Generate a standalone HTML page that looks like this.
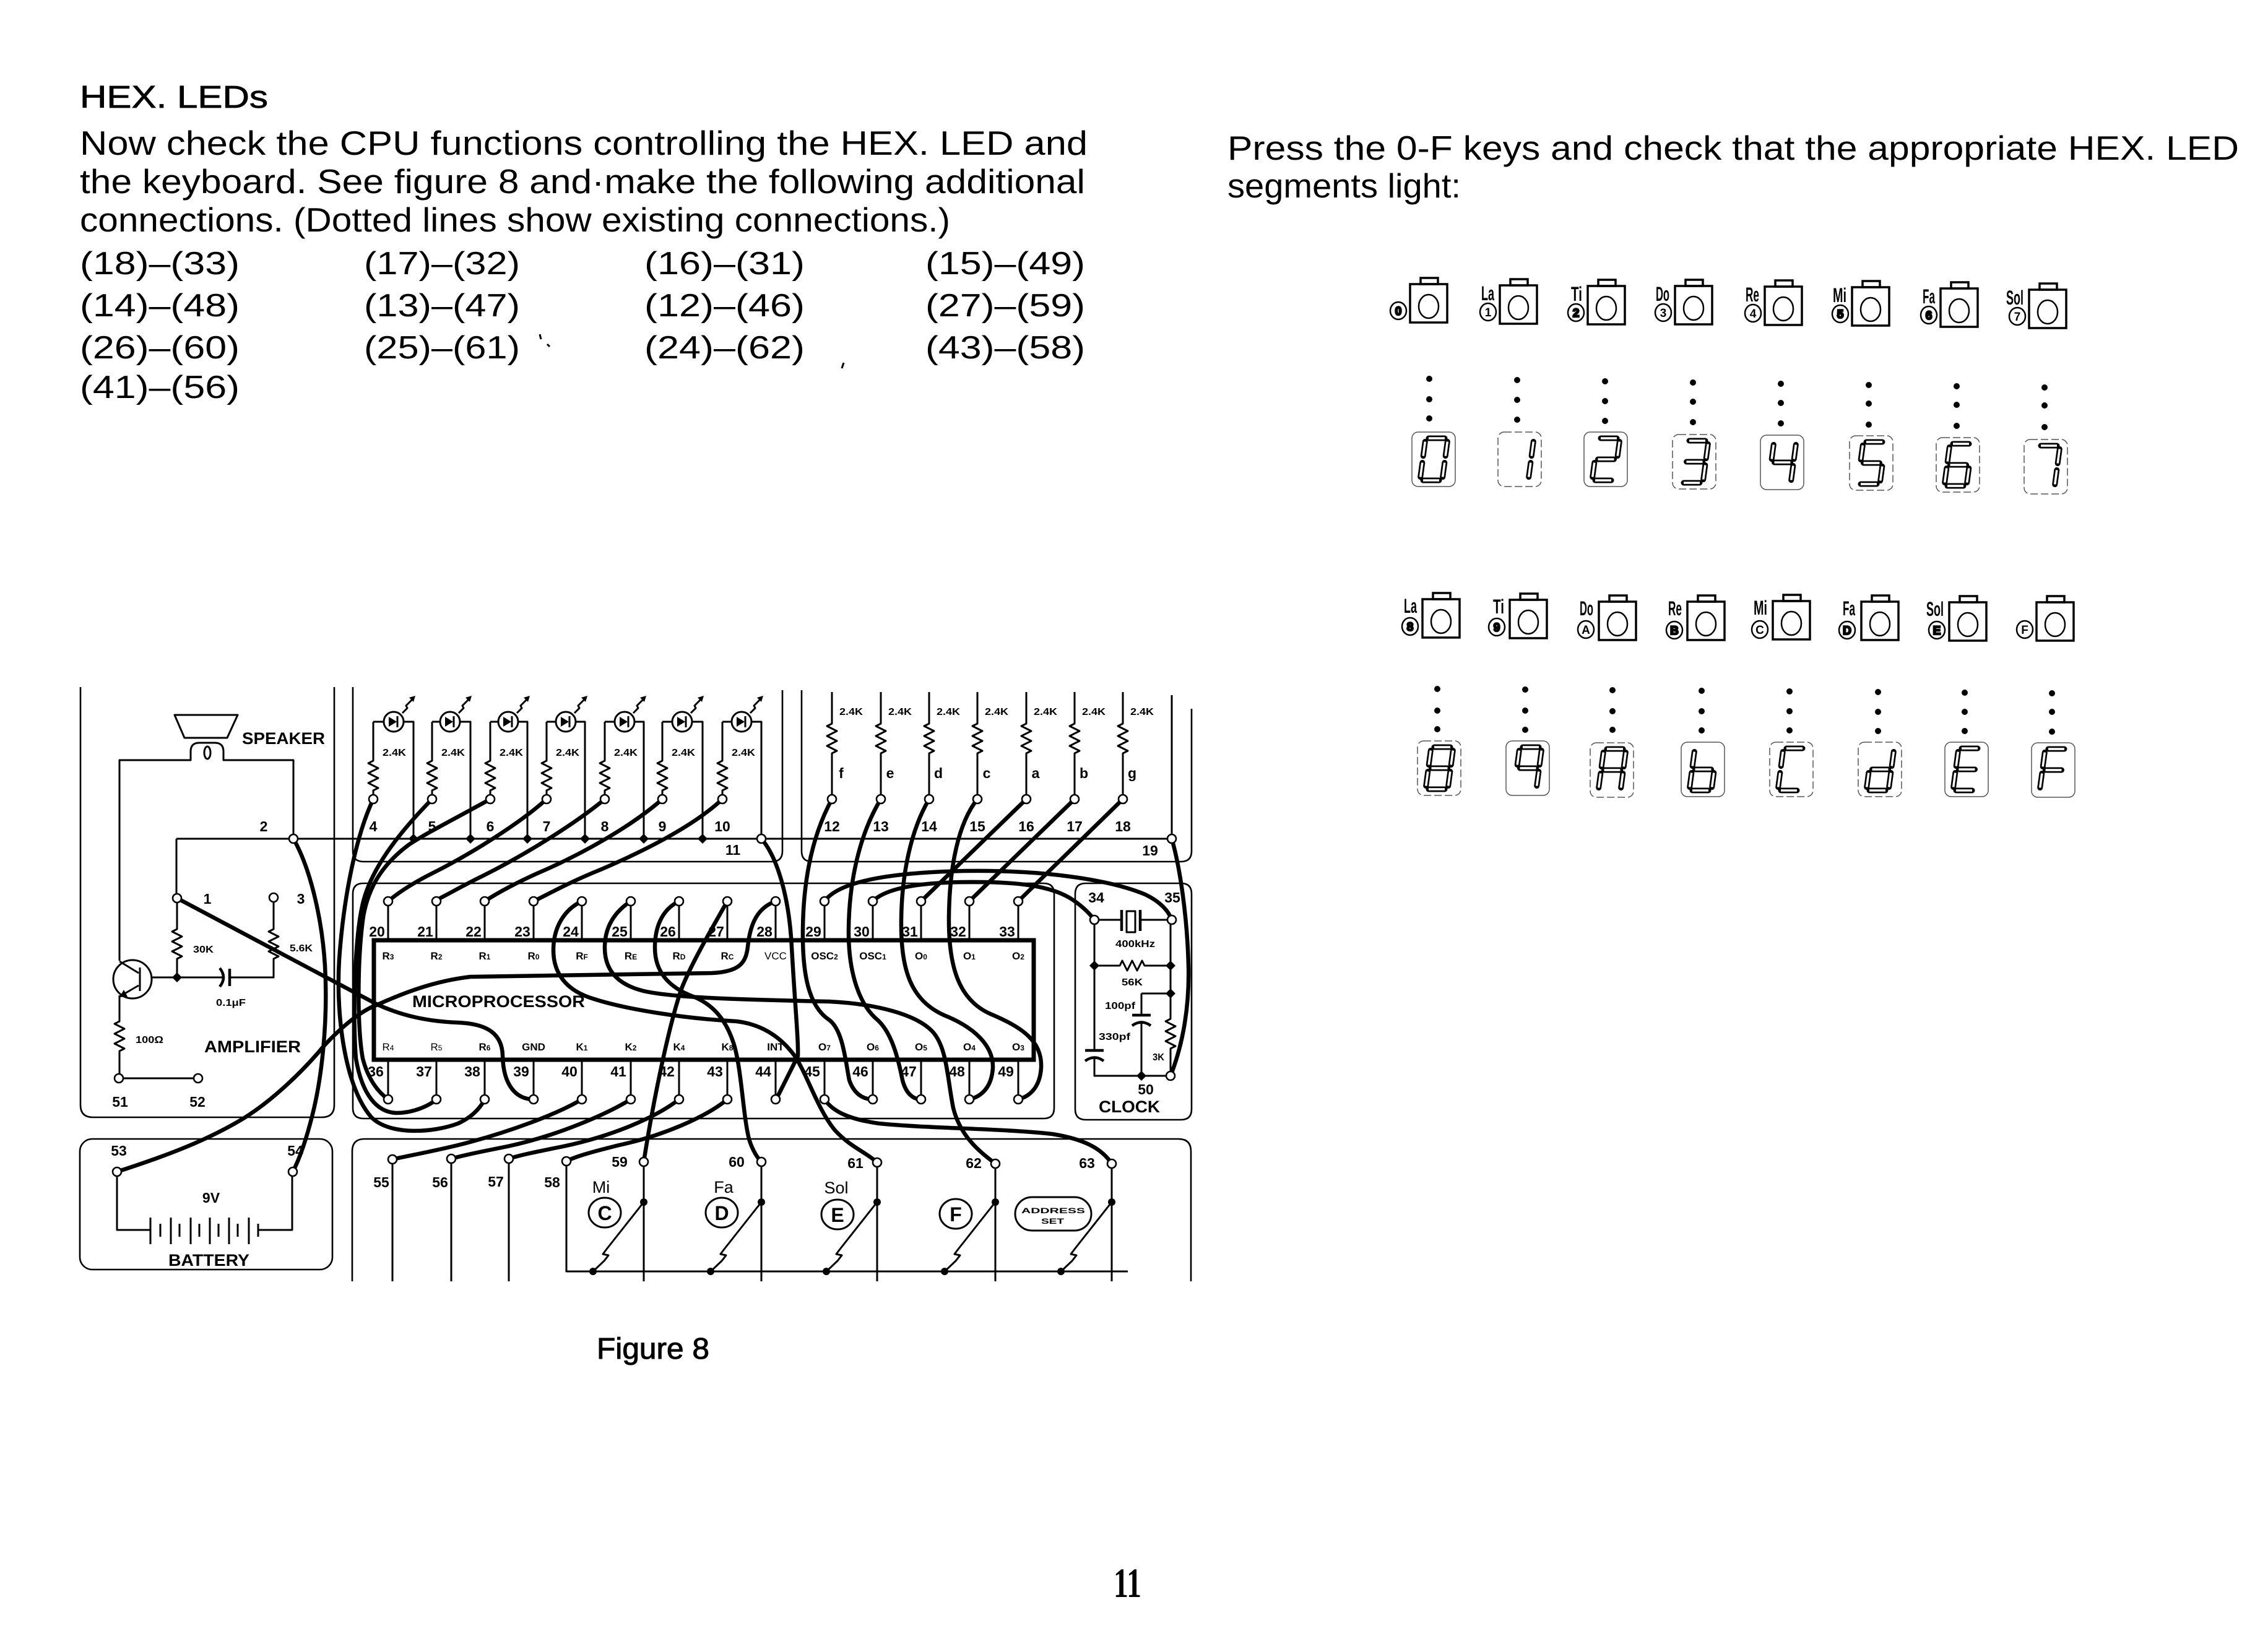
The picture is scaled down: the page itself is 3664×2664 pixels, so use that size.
<!DOCTYPE html>
<html><head><meta charset="utf-8">
<style>
html,body{margin:0;padding:0;background:#fff;}
svg{display:block;}
text{font-family:"Liberation Sans",Arial,sans-serif;fill:#000;}
.bt{font-size:55px;}
.pr{font-size:52px;}
.p{fill:none;stroke:#000;stroke-width:2.6;}
.w{fill:none;stroke:#000;stroke-width:3;stroke-linejoin:round;}
.w4{fill:none;stroke:#000;stroke-width:4.5;}
.tk{fill:none;stroke:#000;stroke-width:6.5;stroke-linecap:round;stroke-linejoin:round;}
.nd{fill:#fff;stroke:#000;stroke-width:2.6;}
.dm{fill:#000;}
.led{fill:#fff;stroke:#000;stroke-width:3;}
.lb{font-weight:bold;font-size:23px;text-anchor:middle;}
.ls{font-weight:bold;font-size:16px;}
.li{font-weight:bold;font-size:17px;text-anchor:middle;}
.big{font-weight:bold;font-size:27px;}
.k{fill:none;stroke:#000;stroke-width:3.5;}
.k2{fill:none;stroke:#000;stroke-width:2.5;}
.kn{font-weight:bold;font-size:19px;text-anchor:middle;}
.kf{stroke:#000;stroke-width:2.5;}
.kl{font-weight:bold;font-size:32px;}
.db{fill:none;stroke:#555;stroke-width:1.5;}
.s1{fill:none;stroke:#000;stroke-width:9;stroke-linecap:round;}
.s2{fill:none;stroke:#fff;stroke-width:3.5;}
.kc{fill:none;stroke:#000;stroke-width:3;}
.kt{font-weight:bold;font-size:32px;text-anchor:middle;}
.km{font-size:27px;text-anchor:middle;}
</style></head><body>
<svg width="3664" height="2664" viewBox="0 0 3664 2664">
<rect x="0" y="0" width="3664" height="2664" fill="#fff"/>

<!-- ============ LEFT TEXT ============ -->
<text x="129" y="174" font-size="51" textLength="304" lengthAdjust="spacingAndGlyphs" stroke="#000" stroke-width="0.8">HEX. LEDs</text>
<text class="bt" x="129" y="250" textLength="1628" lengthAdjust="spacingAndGlyphs">Now check the CPU functions controlling the HEX. LED and</text>
<text class="bt" x="129" y="312" textLength="1624" lengthAdjust="spacingAndGlyphs">the keyboard. See figure 8 and·make the following additional</text>
<text class="bt" x="129" y="374" textLength="1406" lengthAdjust="spacingAndGlyphs">connections. (Dotted lines show existing connections.)</text>

<text class="pr" x="129" y="443" textLength="258" lengthAdjust="spacingAndGlyphs">(18)–(33)</text>
<text class="pr" x="588" y="443" textLength="252" lengthAdjust="spacingAndGlyphs">(17)–(32)</text>
<text class="pr" x="1041" y="443" textLength="259" lengthAdjust="spacingAndGlyphs">(16)–(31)</text>
<text class="pr" x="1495" y="443" textLength="258" lengthAdjust="spacingAndGlyphs">(15)–(49)</text>
<text class="pr" x="129" y="511" textLength="258" lengthAdjust="spacingAndGlyphs">(14)–(48)</text>
<text class="pr" x="588" y="511" textLength="252" lengthAdjust="spacingAndGlyphs">(13)–(47)</text>
<text class="pr" x="1041" y="511" textLength="259" lengthAdjust="spacingAndGlyphs">(12)–(46)</text>
<text class="pr" x="1495" y="511" textLength="258" lengthAdjust="spacingAndGlyphs">(27)–(59)</text>
<text class="pr" x="129" y="579" textLength="258" lengthAdjust="spacingAndGlyphs">(26)–(60)</text>
<text class="pr" x="588" y="579" textLength="252" lengthAdjust="spacingAndGlyphs">(25)–(61)</text>
<text class="pr" x="1041" y="579" textLength="259" lengthAdjust="spacingAndGlyphs">(24)–(62)</text>
<text class="pr" x="1495" y="579" textLength="258" lengthAdjust="spacingAndGlyphs">(43)–(58)</text>
<text class="pr" x="129" y="643" textLength="258" lengthAdjust="spacingAndGlyphs">(41)–(56)</text>
<path d="M872,540 l2,8 M884,556 l4,4" class="w"/>
<path d="M1363,586 l-3,9" class="w"/>

<!-- ============ RIGHT TEXT ============ -->
<text class="bt" x="1983" y="258" textLength="1634" lengthAdjust="spacingAndGlyphs">Press the 0-F keys and check that the appropriate HEX. LED</text>
<text class="bt" x="1983" y="319" textLength="377" lengthAdjust="spacingAndGlyphs">segments light:</text>

<!-- ============ KEYS ROW 1 ============ -->
<g transform="translate(2278,459)"><rect class="k" width="60" height="62"/><rect class="k" x="17" y="-10" width="28" height="10"/><ellipse class="k2" cx="30" cy="36" rx="16" ry="19"/><ellipse class="k2" cx="-19" cy="43" rx="13" ry="14"/><text class="kn kf" x="-19" y="50">0</text></g>
<g transform="translate(2423,461)"><rect class="k" width="60" height="62"/><rect class="k" x="17" y="-10" width="28" height="10"/><ellipse class="k2" cx="30" cy="36" rx="16" ry="19"/><ellipse class="k2" cx="-19" cy="43" rx="13" ry="14"/><text class="kn" x="-19" y="50">1</text><text class="kl" x="-30" y="24" textLength="21" lengthAdjust="spacingAndGlyphs">La</text></g>
<g transform="translate(2565,462)"><rect class="k" width="60" height="62"/><rect class="k" x="17" y="-10" width="28" height="10"/><ellipse class="k2" cx="30" cy="36" rx="16" ry="19"/><ellipse class="k2" cx="-19" cy="43" rx="13" ry="14"/><text class="kn kf" x="-19" y="50">2</text><text class="kl" x="-27" y="24" textLength="18" lengthAdjust="spacingAndGlyphs">Ti</text></g>
<g transform="translate(2706,462)"><rect class="k" width="60" height="62"/><rect class="k" x="17" y="-10" width="28" height="10"/><ellipse class="k2" cx="30" cy="36" rx="16" ry="19"/><ellipse class="k2" cx="-19" cy="43" rx="13" ry="14"/><text class="kn" x="-19" y="50">3</text><text class="kl" x="-31" y="24" textLength="22" lengthAdjust="spacingAndGlyphs">Do</text></g>
<g transform="translate(2851,463)"><rect class="k" width="60" height="62"/><rect class="k" x="17" y="-10" width="28" height="10"/><ellipse class="k2" cx="30" cy="36" rx="16" ry="19"/><ellipse class="k2" cx="-19" cy="43" rx="13" ry="14"/><text class="kn" x="-19" y="50">4</text><text class="kl" x="-31" y="24" textLength="22" lengthAdjust="spacingAndGlyphs">Re</text></g>
<g transform="translate(2992,464)"><rect class="k" width="60" height="62"/><rect class="k" x="17" y="-10" width="28" height="10"/><ellipse class="k2" cx="30" cy="36" rx="16" ry="19"/><ellipse class="k2" cx="-19" cy="43" rx="13" ry="14"/><text class="kn kf" x="-19" y="50">5</text><text class="kl" x="-31" y="24" textLength="22" lengthAdjust="spacingAndGlyphs">Mi</text></g>
<g transform="translate(3135,466)"><rect class="k" width="60" height="62"/><rect class="k" x="17" y="-10" width="28" height="10"/><ellipse class="k2" cx="30" cy="36" rx="16" ry="19"/><ellipse class="k2" cx="-19" cy="43" rx="13" ry="14"/><text class="kn kf" x="-19" y="50">6</text><text class="kl" x="-29" y="24" textLength="20" lengthAdjust="spacingAndGlyphs">Fa</text></g>
<g transform="translate(3278,468)"><rect class="k" width="60" height="62"/><rect class="k" x="17" y="-10" width="28" height="10"/><ellipse class="k2" cx="30" cy="36" rx="16" ry="19"/><ellipse class="k2" cx="-19" cy="43" rx="13" ry="14"/><text class="kn" x="-19" y="50">7</text><text class="kl" x="-37" y="24" textLength="28" lengthAdjust="spacingAndGlyphs">Sol</text></g>

<!-- dots row 1 -->
<g fill="#000">
<circle cx="2309" cy="612" r="5"/><circle cx="2309" cy="645" r="5"/><circle cx="2309" cy="676" r="5"/>
<circle cx="2451" cy="614" r="5"/><circle cx="2451" cy="646" r="5"/><circle cx="2451" cy="678" r="5"/>
<circle cx="2593" cy="616" r="5"/><circle cx="2593" cy="648" r="5"/><circle cx="2593" cy="680" r="5"/>
<circle cx="2735" cy="618" r="5"/><circle cx="2735" cy="649" r="5"/><circle cx="2735" cy="682" r="5"/>
<circle cx="2877" cy="620" r="5"/><circle cx="2877" cy="651" r="5"/><circle cx="2877" cy="684" r="5"/>
<circle cx="3019" cy="622" r="5"/><circle cx="3019" cy="652" r="5"/><circle cx="3019" cy="686" r="5"/>
<circle cx="3161" cy="624" r="5"/><circle cx="3161" cy="654" r="5"/><circle cx="3161" cy="688" r="5"/>
<circle cx="3303" cy="626" r="5"/><circle cx="3303" cy="655" r="5"/><circle cx="3303" cy="690" r="5"/>
</g>

<!-- displays row 1 -->
<g transform="translate(2281,698)"><rect class="db" width="70" height="88" rx="10"/><path class="s1" d="M27,10L53,10M57.3,15.5L54.2,38.5M52.8,49.5L49.7,72.5M18,78L44,78M16.8,49.5L13.7,72.5M21.3,15.5L18.2,38.5"/><path class="s2" d="M27,10L53,10M57.3,15.5L54.2,38.5M52.8,49.5L49.7,72.5M18,78L44,78M16.8,49.5L13.7,72.5M21.3,15.5L18.2,38.5"/></g>
<g transform="translate(2420,698)"><rect class="db" width="70" height="88" rx="10" stroke-dasharray="12 5"/><path class="s1" d="M57.3,15.5L54.2,38.5M52.8,49.5L49.7,72.5"/><path class="s2" d="M57.3,15.5L54.2,38.5M52.8,49.5L49.7,72.5"/></g>
<g transform="translate(2559,698)"><rect class="db" width="70" height="88" rx="10"/><path class="s1" d="M27,10L53,10M57.3,15.5L54.2,38.5M22.5,44L48.5,44M16.8,49.5L13.7,72.5M18,78L44,78"/><path class="s2" d="M27,10L53,10M57.3,15.5L54.2,38.5M22.5,44L48.5,44M16.8,49.5L13.7,72.5M18,78L44,78"/></g>
<g transform="translate(2702,702)"><rect class="db" width="70" height="88" rx="10" stroke-dasharray="12 5"/><path class="s1" d="M27,10L53,10M57.3,15.5L54.2,38.5M22.5,44L48.5,44M52.8,49.5L49.7,72.5M18,78L44,78"/><path class="s2" d="M27,10L53,10M57.3,15.5L54.2,38.5M22.5,44L48.5,44M52.8,49.5L49.7,72.5M18,78L44,78"/></g>
<g transform="translate(2844,703)"><rect class="db" width="70" height="88" rx="10"/><path class="s1" d="M21.3,15.5L18.2,38.5M22.5,44L48.5,44M57.3,15.5L54.2,38.5M52.8,49.5L49.7,72.5"/><path class="s2" d="M21.3,15.5L18.2,38.5M22.5,44L48.5,44M57.3,15.5L54.2,38.5M52.8,49.5L49.7,72.5"/></g>
<g transform="translate(2988,704)"><rect class="db" width="70" height="88" rx="10" stroke-dasharray="12 5"/><path class="s1" d="M27,10L53,10M21.3,15.5L18.2,38.5M22.5,44L48.5,44M52.8,49.5L49.7,72.5M18,78L44,78"/><path class="s2" d="M27,10L53,10M21.3,15.5L18.2,38.5M22.5,44L48.5,44M52.8,49.5L49.7,72.5M18,78L44,78"/></g>
<g transform="translate(3128,707)"><rect class="db" width="70" height="88" rx="10" stroke-dasharray="12 5"/><path class="s1" d="M27,10L53,10M21.3,15.5L18.2,38.5M22.5,44L48.5,44M16.8,49.5L13.7,72.5M52.8,49.5L49.7,72.5M18,78L44,78"/><path class="s2" d="M27,10L53,10M21.3,15.5L18.2,38.5M22.5,44L48.5,44M16.8,49.5L13.7,72.5M52.8,49.5L49.7,72.5M18,78L44,78"/></g>
<g transform="translate(3270,710)"><rect class="db" width="70" height="88" rx="10" stroke-dasharray="12 5"/><path class="s1" d="M27,10L53,10M57.3,15.5L54.2,38.5M52.8,49.5L49.7,72.5"/><path class="s2" d="M27,10L53,10M57.3,15.5L54.2,38.5M52.8,49.5L49.7,72.5"/></g>

<!-- ============ KEYS ROW 2 ============ -->
<g transform="translate(2298,968)"><rect class="k" width="60" height="62"/><rect class="k" x="17" y="-10" width="28" height="10"/><ellipse class="k2" cx="30" cy="36" rx="16" ry="19"/><ellipse class="k2" cx="-20" cy="44" rx="13" ry="14"/><text class="kn kf" x="-20" y="51">8</text><text class="kl" x="-30" y="22" textLength="21" lengthAdjust="spacingAndGlyphs">La</text></g>
<g transform="translate(2439,969)"><rect class="k" width="60" height="62"/><rect class="k" x="17" y="-10" width="28" height="10"/><ellipse class="k2" cx="30" cy="36" rx="16" ry="19"/><ellipse class="k2" cx="-21" cy="44" rx="13" ry="14"/><text class="kn kf" x="-21" y="51">9</text><text class="kl" x="-27" y="22" textLength="18" lengthAdjust="spacingAndGlyphs">Ti</text></g>
<g transform="translate(2583,972)"><rect class="k" width="60" height="62"/><rect class="k" x="17" y="-10" width="28" height="10"/><ellipse class="k2" cx="30" cy="36" rx="16" ry="19"/><ellipse class="k2" cx="-21" cy="45" rx="13" ry="14"/><text class="kn" x="-21" y="52">A</text><text class="kl" x="-31" y="22" textLength="22" lengthAdjust="spacingAndGlyphs">Do</text></g>
<g transform="translate(2726,972)"><rect class="k" width="60" height="62"/><rect class="k" x="17" y="-10" width="28" height="10"/><ellipse class="k2" cx="30" cy="36" rx="16" ry="19"/><ellipse class="k2" cx="-21" cy="46" rx="13" ry="14"/><text class="kn kf" x="-21" y="53">B</text><text class="kl" x="-31" y="22" textLength="22" lengthAdjust="spacingAndGlyphs">Re</text></g>
<g transform="translate(2864,971)"><rect class="k" width="60" height="62"/><rect class="k" x="17" y="-10" width="28" height="10"/><ellipse class="k2" cx="30" cy="36" rx="16" ry="19"/><ellipse class="k2" cx="-21" cy="46" rx="13" ry="14"/><text class="kn" x="-21" y="53">C</text><text class="kl" x="-31" y="22" textLength="22" lengthAdjust="spacingAndGlyphs">Mi</text></g>
<g transform="translate(3007,972)"><rect class="k" width="60" height="62"/><rect class="k" x="17" y="-10" width="28" height="10"/><ellipse class="k2" cx="30" cy="36" rx="16" ry="19"/><ellipse class="k2" cx="-23" cy="46" rx="13" ry="14"/><text class="kn kf" x="-23" y="53">D</text><text class="kl" x="-30" y="22" textLength="20" lengthAdjust="spacingAndGlyphs">Fa</text></g>
<g transform="translate(3149,973)"><rect class="k" width="60" height="62"/><rect class="k" x="17" y="-10" width="28" height="10"/><ellipse class="k2" cx="30" cy="36" rx="16" ry="19"/><ellipse class="k2" cx="-20" cy="45" rx="13" ry="14"/><text class="kn kf" x="-20" y="52">E</text><text class="kl" x="-37" y="22" textLength="28" lengthAdjust="spacingAndGlyphs">Sol</text></g>
<g transform="translate(3290,973)"><rect class="k" width="60" height="62"/><rect class="k" x="17" y="-10" width="28" height="10"/><ellipse class="k2" cx="30" cy="36" rx="16" ry="19"/><ellipse class="k2" cx="-19" cy="44" rx="13" ry="14"/><text class="kn" x="-19" y="51">F</text></g>

<!-- dots row 2 -->
<g fill="#000">
<circle cx="2322" cy="1113" r="5"/><circle cx="2322" cy="1148" r="5"/><circle cx="2322" cy="1178" r="5"/>
<circle cx="2464" cy="1114" r="5"/><circle cx="2464" cy="1148" r="5"/><circle cx="2464" cy="1179" r="5"/>
<circle cx="2605" cy="1115" r="5"/><circle cx="2605" cy="1149" r="5"/><circle cx="2605" cy="1179" r="5"/>
<circle cx="2749" cy="1116" r="5"/><circle cx="2749" cy="1149" r="5"/><circle cx="2749" cy="1180" r="5"/>
<circle cx="2891" cy="1117" r="5"/><circle cx="2891" cy="1149" r="5"/><circle cx="2891" cy="1180" r="5"/>
<circle cx="3034" cy="1118" r="5"/><circle cx="3034" cy="1150" r="5"/><circle cx="3034" cy="1181" r="5"/>
<circle cx="3174" cy="1119" r="5"/><circle cx="3174" cy="1150" r="5"/><circle cx="3174" cy="1181" r="5"/>
<circle cx="3315" cy="1120" r="5"/><circle cx="3315" cy="1150" r="5"/><circle cx="3315" cy="1182" r="5"/>
</g>

<!-- displays row 2 -->
<g transform="translate(2290,1197)"><rect class="db" width="70" height="88" rx="10" stroke-dasharray="12 5"/><path class="s1" d="M27,10L53,10M57.3,15.5L54.2,38.5M52.8,49.5L49.7,72.5M18,78L44,78M16.8,49.5L13.7,72.5M21.3,15.5L18.2,38.5M22.5,44L48.5,44"/><path class="s2" d="M27,10L53,10M57.3,15.5L54.2,38.5M52.8,49.5L49.7,72.5M18,78L44,78M16.8,49.5L13.7,72.5M21.3,15.5L18.2,38.5M22.5,44L48.5,44"/></g>
<g transform="translate(2433,1197)"><rect class="db" width="70" height="88" rx="10"/><path class="s1" d="M27,10L53,10M57.3,15.5L54.2,38.5M52.8,49.5L49.7,72.5M21.3,15.5L18.2,38.5M22.5,44L48.5,44"/><path class="s2" d="M27,10L53,10M57.3,15.5L54.2,38.5M52.8,49.5L49.7,72.5M21.3,15.5L18.2,38.5M22.5,44L48.5,44"/></g>
<g transform="translate(2569,1200)"><rect class="db" width="70" height="88" rx="10" stroke-dasharray="12 5"/><path class="s1" d="M27,10L53,10M57.3,15.5L54.2,38.5M52.8,49.5L49.7,72.5M16.8,49.5L13.7,72.5M21.3,15.5L18.2,38.5M22.5,44L48.5,44"/><path class="s2" d="M27,10L53,10M57.3,15.5L54.2,38.5M52.8,49.5L49.7,72.5M16.8,49.5L13.7,72.5M21.3,15.5L18.2,38.5M22.5,44L48.5,44"/></g>
<g transform="translate(2716,1199)"><rect class="db" width="70" height="88" rx="10"/><path class="s1" d="M21.3,15.5L18.2,38.5M16.8,49.5L13.7,72.5M22.5,44L48.5,44M52.8,49.5L49.7,72.5M18,78L44,78"/><path class="s2" d="M21.3,15.5L18.2,38.5M16.8,49.5L13.7,72.5M22.5,44L48.5,44M52.8,49.5L49.7,72.5M18,78L44,78"/></g>
<g transform="translate(2859,1199)"><rect class="db" width="70" height="88" rx="10" stroke-dasharray="12 5"/><path class="s1" d="M27,10L53,10M21.3,15.5L18.2,38.5M16.8,49.5L13.7,72.5M18,78L44,78"/><path class="s2" d="M27,10L53,10M21.3,15.5L18.2,38.5M16.8,49.5L13.7,72.5M18,78L44,78"/></g>
<g transform="translate(3002,1199)"><rect class="db" width="70" height="88" rx="10" stroke-dasharray="12 5"/><path class="s1" d="M57.3,15.5L54.2,38.5M52.8,49.5L49.7,72.5M18,78L44,78M16.8,49.5L13.7,72.5M22.5,44L48.5,44"/><path class="s2" d="M57.3,15.5L54.2,38.5M52.8,49.5L49.7,72.5M18,78L44,78M16.8,49.5L13.7,72.5M22.5,44L48.5,44"/></g>
<g transform="translate(3142,1199)"><rect class="db" width="70" height="88" rx="10"/><path class="s1" d="M27,10L53,10M21.3,15.5L18.2,38.5M22.5,44L48.5,44M16.8,49.5L13.7,72.5M18,78L44,78"/><path class="s2" d="M27,10L53,10M21.3,15.5L18.2,38.5M22.5,44L48.5,44M16.8,49.5L13.7,72.5M18,78L44,78"/></g>
<g transform="translate(3282,1200)"><rect class="db" width="70" height="88" rx="10"/><path class="s1" d="M27,10L53,10M21.3,15.5L18.2,38.5M22.5,44L48.5,44M16.8,49.5L13.7,72.5"/><path class="s2" d="M27,10L53,10M21.3,15.5L18.2,38.5M22.5,44L48.5,44M16.8,49.5L13.7,72.5"/></g>

<!-- ============ FIGURE 8 SCHEMATIC ============ -->
<!-- panels -->
<path class="p" d="M130,1110 V1785 Q130,1805 150,1805 H520 Q540,1805 540,1785 V1110"/>
<path class="p" d="M570,1110 V1375 Q570,1392 587,1392 H1247 Q1264,1392 1264,1375 V1115"/>
<path class="p" d="M1295,1115 V1375 Q1295,1392 1312,1392 H1908 Q1925,1392 1925,1375 V1145"/>
<path class="p" d="M587,1427 H1686 Q1703,1427 1703,1444 V1790 Q1703,1807 1686,1807 H587 Q570,1807 570,1790 V1444 Q570,1427 587,1427 Z"/>
<path class="p" d="M1754,1427 H1908 Q1925,1427 1925,1444 V1792 Q1925,1809 1908,1809 H1754 Q1737,1809 1737,1792 V1444 Q1737,1427 1754,1427 Z"/>
<rect class="p" x="129" y="1840" width="408" height="211" rx="20"/>
<path class="p" d="M569,2070 V1860 Q569,1840 589,1840 H1904 Q1924,1840 1924,1860 V2070"/>

<!-- main horizontal bus -->
<path class="w" d="M285,1355 H1893"/>

<!-- speaker / amplifier -->
<path class="w" d="M282,1155 H384 L367,1192 H298 Z" stroke-width="3.5"/>
<path class="w" d="M193,1552 V1228 H308 V1214 Q308,1200 322,1200 H347 Q361,1200 361,1214 V1228 H474 V1348"/>
<ellipse class="w" cx="335" cy="1216" rx="5" ry="10"/>
<path class="w" d="M285,1355 V1444"/>
<path class="w" d="M286,1458 V1498 l0,3 -8,4 16,8 -16,8 16,8 -16,8 16,8 -8,4 V1579"/>
<path class="w" d="M442,1457 V1498 l0,3 -8,4 16,8 -16,8 16,8 -16,8 16,8 -8,4 V1579 H373"/>
<path class="w4" d="M371,1565 V1593"/>
<path class="w4" d="M355,1564 Q367,1579 355,1594"/>
<path class="w" d="M361,1579 H245"/>
<circle class="w" cx="214" cy="1582" r="31"/>
<path class="w" d="M226,1563 V1601" stroke-width="6"/>
<path class="w" d="M224,1572 L193,1553" stroke-width="4"/>
<path class="w" d="M224,1592 L193,1610" stroke-width="4"/>
<path class="dm" d="M193,1611 L206,1610 L200,1599 Z"/>
<path class="w" d="M193,1608 V1647 l0,3 -8,4 16,8 -16,8 16,8 -16,8 16,8 -8,4 V1735"/>
<path class="w" d="M199,1742 H313"/>
<polygon class="dm" points="286,1571 294,1579 286,1587 278,1579"/>

<text class="big" x="391" y="1202" textLength="134" lengthAdjust="spacingAndGlyphs">SPEAKER</text>
<text class="lb" x="426" y="1343">2</text>
<text class="lb" x="335" y="1460">1</text>
<text class="lb" x="486" y="1460">3</text>
<text class="ls" x="312" y="1539" textLength="33" lengthAdjust="spacingAndGlyphs">30K</text>
<text class="ls" x="468" y="1537" textLength="37" lengthAdjust="spacingAndGlyphs">5.6K</text>
<text class="ls" x="349" y="1625" textLength="48" lengthAdjust="spacingAndGlyphs" font-weight="normal">0.1μF</text>
<text class="ls" x="219" y="1685" textLength="45" lengthAdjust="spacingAndGlyphs" font-weight="normal">100Ω</text>
<text class="big" x="330" y="1700" textLength="156" lengthAdjust="spacingAndGlyphs">AMPLIFIER</text>
<text class="lb" x="194" y="1788">51</text>
<text class="lb" x="319" y="1788">52</text>

<!-- battery -->
<path class="w" d="M189,1900 V1987 H243"/>
<path class="w" d="M417,1987 H472 V1900"/>
<path class="w" d="M243,1967 V2010 M276,1967 V2010 M308,1967 V2010 M339,1967 V2010 M370,1967 V2010 M402,1967 V2010"/>
<path class="w" stroke-width="8" d="M259,1977 V1998 M290,1977 V1998 M322,1977 V1998 M353,1977 V1998 M384,1977 V1998 M417,1977 V1998"/>
<text class="lb" x="192" y="1867">53</text>
<text class="lb" x="477" y="1867">54</text>
<text class="lb" x="341" y="1943">9V</text>
<text class="big" x="272" y="2045" textLength="131" lengthAdjust="spacingAndGlyphs">BATTERY</text>

<!-- LED columns -->
<path class="w" d="M603,1166 V1226 l0,3 -8,4 16,8 -16,8 16,8 -16,8 16,8 -8,4 V1284 M603,1166 H620 M652,1166 H668 V1355"/>
<path class="w" d="M698,1166 V1226 l0,3 -8,4 16,8 -16,8 16,8 -16,8 16,8 -8,4 V1284 M698,1166 H711 M743,1166 H760 V1355"/>
<path class="w" d="M792,1166 V1226 l0,3 -8,4 16,8 -16,8 16,8 -16,8 16,8 -8,4 V1284 M792,1166 H805 M837,1166 H852 V1355"/>
<path class="w" d="M883,1166 V1226 l0,3 -8,4 16,8 -16,8 16,8 -16,8 16,8 -8,4 V1284 M883,1166 H898 M930,1166 H945 V1355"/>
<path class="w" d="M977,1166 V1226 l0,3 -8,4 16,8 -16,8 16,8 -16,8 16,8 -8,4 V1284 M977,1166 H993 M1025,1166 H1040 V1355"/>
<path class="w" d="M1070,1166 V1226 l0,3 -8,4 16,8 -16,8 16,8 -16,8 16,8 -8,4 V1284 M1070,1166 H1086 M1118,1166 H1135 V1355"/>
<path class="w" d="M1167,1166 V1226 l0,3 -8,4 16,8 -16,8 16,8 -16,8 16,8 -8,4 V1284 M1167,1166 H1182 M1214,1166 H1230 V1348"/>

<circle class="led" cx="636" cy="1166" r="16"/><circle class="led" cx="727" cy="1166" r="16"/><circle class="led" cx="821" cy="1166" r="16"/><circle class="led" cx="914" cy="1166" r="16"/><circle class="led" cx="1009" cy="1166" r="16"/><circle class="led" cx="1102" cy="1166" r="16"/><circle class="led" cx="1198" cy="1166" r="16"/>
<path class="dm" d="M628,1158 V1174 L641,1166 Z M719,1158 V1174 L732,1166 Z M813,1158 V1174 L826,1166 Z M906,1158 V1174 L919,1166 Z M1001,1158 V1174 L1014,1166 Z M1094,1158 V1174 L1107,1166 Z M1190,1158 V1174 L1203,1166 Z"/>
<path class="w" stroke-width="3.5" d="M642,1157 V1175 M733,1157 V1175 M827,1157 V1175 M920,1157 V1175 M1015,1157 V1175 M1108,1157 V1175 M1204,1157 V1175"/>
<path class="w" stroke-width="2.5" d="M650,1152 L658,1144 L656,1140 L666,1130 M741,1152 L749,1144 L747,1140 L757,1130 M835,1152 L843,1144 L841,1140 L851,1130 M928,1152 L936,1144 L934,1140 L944,1130 M1023,1152 L1031,1144 L1029,1140 L1039,1130 M1116,1152 L1124,1144 L1122,1140 L1132,1130 M1212,1152 L1220,1144 L1218,1140 L1228,1130"/>
<g class="dm">
<polygon points="671,1124 661,1127 668,1134"/><polygon points="762,1124 752,1127 759,1134"/><polygon points="856,1124 846,1127 853,1134"/><polygon points="949,1124 939,1127 946,1134"/><polygon points="1044,1124 1034,1127 1041,1134"/><polygon points="1137,1124 1127,1127 1134,1134"/><polygon points="1233,1124 1223,1127 1230,1134"/>
<polygon points="668,1347 676,1355 668,1363 660,1355"/><polygon points="760,1347 768,1355 760,1363 752,1355"/><polygon points="852,1347 860,1355 852,1363 844,1355"/><polygon points="945,1347 953,1355 945,1363 937,1355"/><polygon points="1040,1347 1048,1355 1040,1363 1032,1355"/><polygon points="1135,1347 1143,1355 1135,1363 1127,1355"/>
</g>
<g class="ls">
<text x="618" y="1221" textLength="38" lengthAdjust="spacingAndGlyphs">2.4K</text>
<text x="713" y="1221" textLength="38" lengthAdjust="spacingAndGlyphs">2.4K</text>
<text x="807" y="1221" textLength="38" lengthAdjust="spacingAndGlyphs">2.4K</text>
<text x="898" y="1221" textLength="38" lengthAdjust="spacingAndGlyphs">2.4K</text>
<text x="992" y="1221" textLength="38" lengthAdjust="spacingAndGlyphs">2.4K</text>
<text x="1085" y="1221" textLength="38" lengthAdjust="spacingAndGlyphs">2.4K</text>
<text x="1182" y="1221" textLength="38" lengthAdjust="spacingAndGlyphs">2.4K</text>
</g>
<text class="lb" x="603" y="1343">4</text><text class="lb" x="698" y="1343">5</text><text class="lb" x="792" y="1343">6</text><text class="lb" x="883" y="1343">7</text><text class="lb" x="977" y="1343">8</text><text class="lb" x="1070" y="1343">9</text><text class="lb" x="1167" y="1343">10</text>
<text class="lb" x="1184" y="1381">11</text>

<!-- segment resistor columns -->
<path class="w" d="M1344,1118 V1166 l0,3 -8,4 16,8 -16,8 16,8 -16,8 16,8 -8,4 V1284"/>
<path class="w" d="M1423,1118 V1166 l0,3 -8,4 16,8 -16,8 16,8 -16,8 16,8 -8,4 V1284"/>
<path class="w" d="M1501,1118 V1166 l0,3 -8,4 16,8 -16,8 16,8 -16,8 16,8 -8,4 V1284"/>
<path class="w" d="M1579,1118 V1166 l0,3 -8,4 16,8 -16,8 16,8 -16,8 16,8 -8,4 V1284"/>
<path class="w" d="M1658,1118 V1166 l0,3 -8,4 16,8 -16,8 16,8 -16,8 16,8 -8,4 V1284"/>
<path class="w" d="M1736,1118 V1166 l0,3 -8,4 16,8 -16,8 16,8 -16,8 16,8 -8,4 V1284"/>
<path class="w" d="M1814,1118 V1166 l0,3 -8,4 16,8 -16,8 16,8 -16,8 16,8 -8,4 V1284"/>
<path class="w" d="M1893,1123 V1348"/>
<g class="ls">
<text x="1356" y="1155" textLength="38" lengthAdjust="spacingAndGlyphs">2.4K</text>
<text x="1435" y="1155" textLength="38" lengthAdjust="spacingAndGlyphs">2.4K</text>
<text x="1513" y="1155" textLength="38" lengthAdjust="spacingAndGlyphs">2.4K</text>
<text x="1591" y="1155" textLength="38" lengthAdjust="spacingAndGlyphs">2.4K</text>
<text x="1670" y="1155" textLength="38" lengthAdjust="spacingAndGlyphs">2.4K</text>
<text x="1748" y="1155" textLength="38" lengthAdjust="spacingAndGlyphs">2.4K</text>
<text x="1826" y="1155" textLength="38" lengthAdjust="spacingAndGlyphs">2.4K</text>
</g>
<text class="lb" x="1359" y="1257">f</text><text class="lb" x="1438" y="1257">e</text><text class="lb" x="1516" y="1257">d</text><text class="lb" x="1594" y="1257">c</text><text class="lb" x="1673" y="1257">a</text><text class="lb" x="1751" y="1257">b</text><text class="lb" x="1829" y="1257">g</text>
<text class="lb" x="1344" y="1343">12</text><text class="lb" x="1423" y="1343">13</text><text class="lb" x="1501" y="1343">14</text><text class="lb" x="1579" y="1343">15</text><text class="lb" x="1658" y="1343">16</text><text class="lb" x="1736" y="1343">17</text><text class="lb" x="1814" y="1343">18</text>
<text class="lb" x="1858" y="1382">19</text>

<!-- microprocessor -->
<path class="w" d="M627,1463 V1519 M705,1463 V1519 M783,1463 V1519 M862,1463 V1519 M940,1463 V1519 M1019,1463 V1519 M1097,1463 V1519 M1175,1463 V1519 M1253,1463 V1519 M1332,1463 V1519 M1410,1463 V1519 M1488,1463 V1519 M1566,1463 V1519 M1645,1463 V1519"/>
<path class="w" d="M627,1712 V1769 M705,1712 V1769 M783,1712 V1769 M862,1712 V1769 M940,1712 V1769 M1019,1712 V1769 M1097,1712 V1769 M1175,1712 V1769 M1253,1712 V1769 M1332,1712 V1769 M1410,1712 V1769 M1488,1712 V1769 M1566,1712 V1769 M1645,1712 V1769"/>
<rect x="604" y="1519" width="1066" height="193" fill="none" stroke="#000" stroke-width="7"/>
<g class="lb">
<text x="609" y="1513">20</text><text x="687" y="1513">21</text><text x="765" y="1513">22</text><text x="844" y="1513">23</text><text x="922" y="1513">24</text><text x="1001" y="1513">25</text><text x="1079" y="1513">26</text><text x="1157" y="1513">27</text><text x="1235" y="1513">28</text><text x="1314" y="1513">29</text><text x="1392" y="1513">30</text><text x="1470" y="1513">31</text><text x="1548" y="1513">32</text><text x="1627" y="1513">33</text>
<text x="607" y="1739">36</text><text x="685" y="1739">37</text><text x="763" y="1739">38</text><text x="842" y="1739">39</text><text x="920" y="1739">40</text><text x="999" y="1739">41</text><text x="1077" y="1739">42</text><text x="1155" y="1739">43</text><text x="1233" y="1739">44</text><text x="1312" y="1739">45</text><text x="1390" y="1739">46</text><text x="1468" y="1739">47</text><text x="1546" y="1739">48</text><text x="1625" y="1739">49</text>
</g>
<g class="li">
<text x="627" y="1550">R<tspan font-size="12">3</tspan></text><text x="705" y="1550">R<tspan font-size="12">2</tspan></text><text x="783" y="1550">R<tspan font-size="12">1</tspan></text><text x="862" y="1550">R<tspan font-size="12">0</tspan></text><text x="940" y="1550">R<tspan font-size="12">F</tspan></text><text x="1019" y="1550">R<tspan font-size="12">E</tspan></text><text x="1097" y="1550">R<tspan font-size="12">D</tspan></text><text x="1175" y="1550">R<tspan font-size="12">C</tspan></text><text x="1253" y="1550" font-weight="normal">VCC</text><text x="1332" y="1550">OSC<tspan font-size="12">2</tspan></text><text x="1410" y="1550">OSC<tspan font-size="12">1</tspan></text><text x="1488" y="1550">O<tspan font-size="12">0</tspan></text><text x="1566" y="1550">O<tspan font-size="12">1</tspan></text><text x="1645" y="1550">O<tspan font-size="12">2</tspan></text>
<text x="627" y="1697" font-weight="normal">R<tspan font-size="12">4</tspan></text><text x="705" y="1697" font-weight="normal">R<tspan font-size="12">5</tspan></text><text x="783" y="1697">R<tspan font-size="12">6</tspan></text><text x="862" y="1697">GND</text><text x="940" y="1697">K<tspan font-size="12">1</tspan></text><text x="1019" y="1697">K<tspan font-size="12">2</tspan></text><text x="1097" y="1697">K<tspan font-size="12">4</tspan></text><text x="1175" y="1697">K<tspan font-size="12">8</tspan></text><text x="1253" y="1697">INT</text><text x="1332" y="1697">O<tspan font-size="12">7</tspan></text><text x="1410" y="1697">O<tspan font-size="12">6</tspan></text><text x="1488" y="1697">O<tspan font-size="12">5</tspan></text><text x="1566" y="1697">O<tspan font-size="12">4</tspan></text><text x="1645" y="1697">O<tspan font-size="12">3</tspan></text>
</g>
<text class="big" x="666" y="1627" textLength="279" lengthAdjust="spacingAndGlyphs">MICROPROCESSOR</text>

<!-- clock -->
<path class="w" d="M1775,1486 H1812 M1842,1486 H1886"/>
<path class="w4" d="M1812,1470 V1504 M1842,1470 V1504"/>
<rect class="w" x="1820" y="1472" width="14" height="34"/>
<path class="w" d="M1768,1493 V1697 M1768,1710 V1738 H1884"/>
<path class="w4" d="M1753,1697 H1783 M1753,1714 Q1768,1703 1783,1714"/>
<path class="w" d="M1768,1560 H1806 l3,0 4,-8 8,16 8,-16 8,16 8,-16 4,8 H1891"/>
<path class="w" d="M1891,1493 V1643 l0,3 -8,4 16,8 -16,8 16,8 -16,8 16,8 -8,4 V1731"/>
<path class="w" d="M1844,1605 H1891 M1844,1605 V1640 M1844,1652 V1738"/>
<path class="w4" d="M1829,1640 H1859 M1829,1657 Q1844,1646 1859,1657"/>
<g class="dm">
<polygon points="1768,1552 1776,1560 1768,1568 1760,1560"/><polygon points="1891,1552 1899,1560 1891,1568 1883,1560"/><polygon points="1891,1597 1899,1605 1891,1613 1883,1605"/><polygon points="1844,1730 1852,1738 1844,1746 1836,1738"/>
</g>
<text class="lb" x="1771" y="1458">34</text><text class="lb" x="1894" y="1458">35</text>
<text class="ls" x="1802" y="1530" textLength="64" lengthAdjust="spacingAndGlyphs">400kHz</text>
<text class="ls" x="1812" y="1592" font-size="19" textLength="34" lengthAdjust="spacingAndGlyphs">56K</text>
<text class="ls" x="1785" y="1630" textLength="49" lengthAdjust="spacingAndGlyphs">100pf</text>
<text class="ls" x="1775" y="1680" textLength="51" lengthAdjust="spacingAndGlyphs">330pf</text>
<text class="ls" x="1862" y="1713" textLength="19" lengthAdjust="spacingAndGlyphs">3K</text>
<text class="lb" x="1851" y="1768">50</text>
<text class="big" x="1775" y="1797" textLength="99" lengthAdjust="spacingAndGlyphs">CLOCK</text>

<!-- keyboard -->
<path class="w" d="M634,1880 V2070 M729,1879 V2070 M822,1879 V2070 M915,1883 V2054 H1822 M1040,1884 V2070 M1230,1884 V2070 M1417,1885 V2070 M1608,1887 V2070 M1796,1887 V2070"/>
<path class="w" stroke-width="3.5" d="M1040,1942 L980,2018 l-6,8 9,2 -7,9 L958,2054 M1230,1942 L1170,2018 l-6,8 9,2 -7,9 L1148,2054 M1417,1942 L1357,2018 l-6,8 9,2 -7,9 L1335,2054 M1608,1942 L1548,2018 l-6,8 9,2 -7,9 L1526,2054 M1796,1942 L1736,2018 l-6,8 9,2 -7,9 L1714,2054"/>
<g class="dm">
<circle cx="1040" cy="1942" r="6"/><circle cx="958" cy="2054" r="6"/><circle cx="1230" cy="1942" r="6"/><circle cx="1148" cy="2054" r="6"/><circle cx="1417" cy="1942" r="6"/><circle cx="1335" cy="2054" r="6"/><circle cx="1608" cy="1942" r="6"/><circle cx="1526" cy="2054" r="6"/><circle cx="1796" cy="1942" r="6"/><circle cx="1714" cy="2054" r="6"/>
</g>
<ellipse class="kc" cx="977" cy="1959" rx="26" ry="24"/><text class="kt" x="977" y="1971">C</text>
<ellipse class="kc" cx="1166" cy="1959" rx="26" ry="24"/><text class="kt" x="1166" y="1971">D</text>
<ellipse class="kc" cx="1353" cy="1962" rx="26" ry="24"/><text class="kt" x="1353" y="1974">E</text>
<ellipse class="kc" cx="1544" cy="1961" rx="26" ry="24"/><text class="kt" x="1544" y="1973">F</text>
<rect class="kc" x="1640" y="1934" width="123" height="54" rx="27"/>
<text x="1650" y="1960" font-size="12" font-weight="bold" textLength="103" lengthAdjust="spacingAndGlyphs">ADDRESS</text>
<text x="1682" y="1977" font-size="12" font-weight="bold" textLength="37" lengthAdjust="spacingAndGlyphs">SET</text>
<text class="km" x="971" y="1927">Mi</text><text class="km" x="1169" y="1927">Fa</text><text class="km" x="1351" y="1928">Sol</text>
<g class="lb">
<text x="616" y="1918">55</text><text x="711" y="1918">56</text><text x="801" y="1917">57</text><text x="892" y="1918">58</text><text x="1001" y="1885">59</text><text x="1190" y="1885">60</text><text x="1382" y="1887">61</text><text x="1573" y="1887">62</text><text x="1756" y="1887">63</text>
</g>

<!-- thick wires -->
<g class="tk">
<path d="M1814,1291 L1645,1456"/>
<path d="M1736,1291 L1566,1456"/>
<path d="M1658,1291 L1488,1456"/>
<path d="M1579,1291 C1548,1330 1534,1400 1533,1480 C1532,1560 1548,1615 1600,1638 C1652,1660 1684,1682 1682,1725 C1680,1758 1662,1772 1645,1776"/>
<path d="M1501,1291 C1472,1340 1457,1410 1456,1485 C1455,1565 1470,1615 1525,1640 C1575,1660 1605,1690 1604,1725 C1602,1758 1584,1772 1566,1776"/>
<path d="M1423,1291 C1390,1345 1372,1420 1371,1500 C1370,1575 1390,1625 1418,1648 C1442,1670 1452,1715 1458,1745 C1464,1768 1476,1776 1488,1776"/>
<path d="M1344,1291 C1312,1350 1298,1420 1297,1500 C1296,1570 1305,1625 1340,1648 C1362,1665 1366,1715 1372,1745 C1380,1768 1395,1776 1410,1776"/>
<path d="M1410,1456 C1430,1436 1480,1426 1557,1425 C1640,1424 1700,1430 1735,1455 C1752,1467 1762,1478 1768,1486"/>
<path d="M1332,1456 C1352,1428 1420,1410 1557,1407 C1680,1405 1790,1420 1850,1445 C1875,1457 1888,1472 1893,1486"/>
<path d="M1893,1355 C1906,1400 1918,1480 1920,1560 C1922,1640 1906,1700 1891,1738"/>
<path d="M1230,1355 C1256,1385 1275,1450 1279,1530 C1284,1620 1290,1680 1289,1706 L1254,1776"/>
<path d="M189,1893 C260,1870 330,1845 393,1807 C440,1778 490,1730 523,1690 C560,1650 590,1630 610,1623 C650,1605 700,1585 760,1578 L1150,1572 C1195,1570 1205,1555 1208,1530 C1212,1490 1225,1466 1253,1456"/>
<path d="M286,1451 L610,1623 C650,1641 690,1650 740,1652 C790,1654 811,1672 812,1705 C813,1755 835,1776 862,1776"/>
<path d="M474,1355 C500,1400 520,1480 525,1560 C530,1650 520,1740 505,1800 C495,1840 485,1870 473,1893"/>
<path d="M603,1291 C575,1350 555,1450 548,1550 C542,1650 560,1760 600,1805 C630,1835 700,1830 740,1815 C760,1806 775,1792 783,1776"/>
<path d="M698,1291 C650,1340 600,1400 586,1460 C572,1520 570,1650 575,1710 C585,1770 610,1797 640,1798 C670,1798 695,1785 705,1776"/>
<path d="M792,1291 C740,1320 690,1345 660,1365 C620,1395 596,1430 587,1480 C577,1550 577,1660 586,1710 C595,1745 612,1765 627,1776"/>
<path d="M883,1291 C840,1330 760,1380 700,1410 C660,1430 640,1445 627,1456"/>
<path d="M977,1291 C930,1330 850,1380 780,1415 C745,1432 720,1447 705,1454"/>
<path d="M1070,1291 C1020,1335 940,1380 870,1410 C830,1428 800,1445 783,1456"/>
<path d="M1167,1291 C1120,1335 1040,1375 970,1405 C920,1425 885,1445 862,1456"/>
<path d="M940,1456 C910,1470 894,1500 894,1535 C894,1570 912,1600 960,1614 C1010,1630 1100,1645 1190,1650 C1232,1655 1262,1676 1284,1706 C1305,1738 1320,1790 1348,1825 C1372,1852 1400,1862 1417,1878"/>
<path d="M1019,1456 C990,1475 977,1500 977,1531 C977,1562 992,1588 1036,1600 C1080,1612 1200,1615 1340,1618 C1420,1622 1480,1640 1505,1665 C1530,1690 1530,1740 1540,1790 C1552,1838 1585,1862 1608,1880"/>
<path d="M1097,1456 C1068,1470 1058,1500 1058,1531 C1058,1570 1080,1595 1120,1610 C1150,1622 1172,1645 1185,1685 C1198,1725 1200,1800 1210,1840 C1216,1860 1225,1872 1230,1877"/>
<path d="M1175,1456 C1150,1500 1115,1560 1100,1600 C1080,1660 1055,1780 1040,1877"/>
<path d="M940,1776 C900,1800 820,1830 740,1850 C690,1862 655,1868 634,1873"/>
<path d="M1019,1776 C980,1800 900,1835 820,1852 C780,1860 750,1866 729,1872"/>
<path d="M1097,1776 C1060,1805 990,1835 910,1852 C870,1860 840,1866 822,1872"/>
<path d="M1175,1776 C1140,1805 1070,1835 1000,1850 C960,1860 930,1868 915,1876"/>
<path d="M1332,1776 C1345,1795 1370,1808 1420,1815 C1500,1823 1620,1823 1700,1832 C1750,1840 1780,1855 1796,1880"/>
</g>

<!-- nodes -->
<g class="nd">
<circle cx="474" cy="1355" r="7"/><circle cx="286" cy="1451" r="7"/><circle cx="442" cy="1450" r="7"/><circle cx="192" cy="1742" r="7"/><circle cx="320" cy="1742" r="7"/>
<circle cx="189" cy="1893" r="7"/><circle cx="473" cy="1893" r="7"/>
<circle cx="603" cy="1291" r="7"/><circle cx="698" cy="1291" r="7"/><circle cx="792" cy="1291" r="7"/><circle cx="883" cy="1291" r="7"/><circle cx="977" cy="1291" r="7"/><circle cx="1070" cy="1291" r="7"/><circle cx="1167" cy="1291" r="7"/>
<circle cx="1230" cy="1355" r="7"/><circle cx="1893" cy="1355" r="7"/>
<circle cx="1344" cy="1291" r="7"/><circle cx="1423" cy="1291" r="7"/><circle cx="1501" cy="1291" r="7"/><circle cx="1579" cy="1291" r="7"/><circle cx="1658" cy="1291" r="7"/><circle cx="1736" cy="1291" r="7"/><circle cx="1814" cy="1291" r="7"/>
<circle cx="627" cy="1456" r="7"/><circle cx="705" cy="1456" r="7"/><circle cx="783" cy="1456" r="7"/><circle cx="862" cy="1456" r="7"/><circle cx="940" cy="1456" r="7"/><circle cx="1019" cy="1456" r="7"/><circle cx="1097" cy="1456" r="7"/><circle cx="1175" cy="1456" r="7"/><circle cx="1253" cy="1456" r="7"/><circle cx="1332" cy="1456" r="7"/><circle cx="1410" cy="1456" r="7"/><circle cx="1488" cy="1456" r="7"/><circle cx="1566" cy="1456" r="7"/><circle cx="1645" cy="1456" r="7"/>
<circle cx="627" cy="1776" r="7"/><circle cx="705" cy="1776" r="7"/><circle cx="783" cy="1776" r="7"/><circle cx="862" cy="1776" r="7"/><circle cx="940" cy="1776" r="7"/><circle cx="1019" cy="1776" r="7"/><circle cx="1097" cy="1776" r="7"/><circle cx="1175" cy="1776" r="7"/><circle cx="1253" cy="1776" r="7"/><circle cx="1332" cy="1776" r="7"/><circle cx="1410" cy="1776" r="7"/><circle cx="1488" cy="1776" r="7"/><circle cx="1566" cy="1776" r="7"/><circle cx="1645" cy="1776" r="7"/>
<circle cx="1768" cy="1486" r="7"/><circle cx="1893" cy="1486" r="7"/><circle cx="1891" cy="1738" r="7"/>
<circle cx="634" cy="1873" r="7"/><circle cx="729" cy="1872" r="7"/><circle cx="822" cy="1872" r="7"/><circle cx="915" cy="1876" r="7"/><circle cx="1040" cy="1877" r="7"/><circle cx="1230" cy="1877" r="7"/><circle cx="1417" cy="1878" r="7"/><circle cx="1608" cy="1880" r="7"/><circle cx="1796" cy="1880" r="7"/>
</g>

<!-- caption & page number -->
<text x="964" y="2195" font-size="48" textLength="182" lengthAdjust="spacingAndGlyphs" stroke="#000" stroke-width="1">Figure 8</text>
<text x="1799" y="2580" font-size="68" font-weight="bold" textLength="45" lengthAdjust="spacingAndGlyphs" style="font-family:'Liberation Serif',serif;">11</text>
</svg>
</body></html>
